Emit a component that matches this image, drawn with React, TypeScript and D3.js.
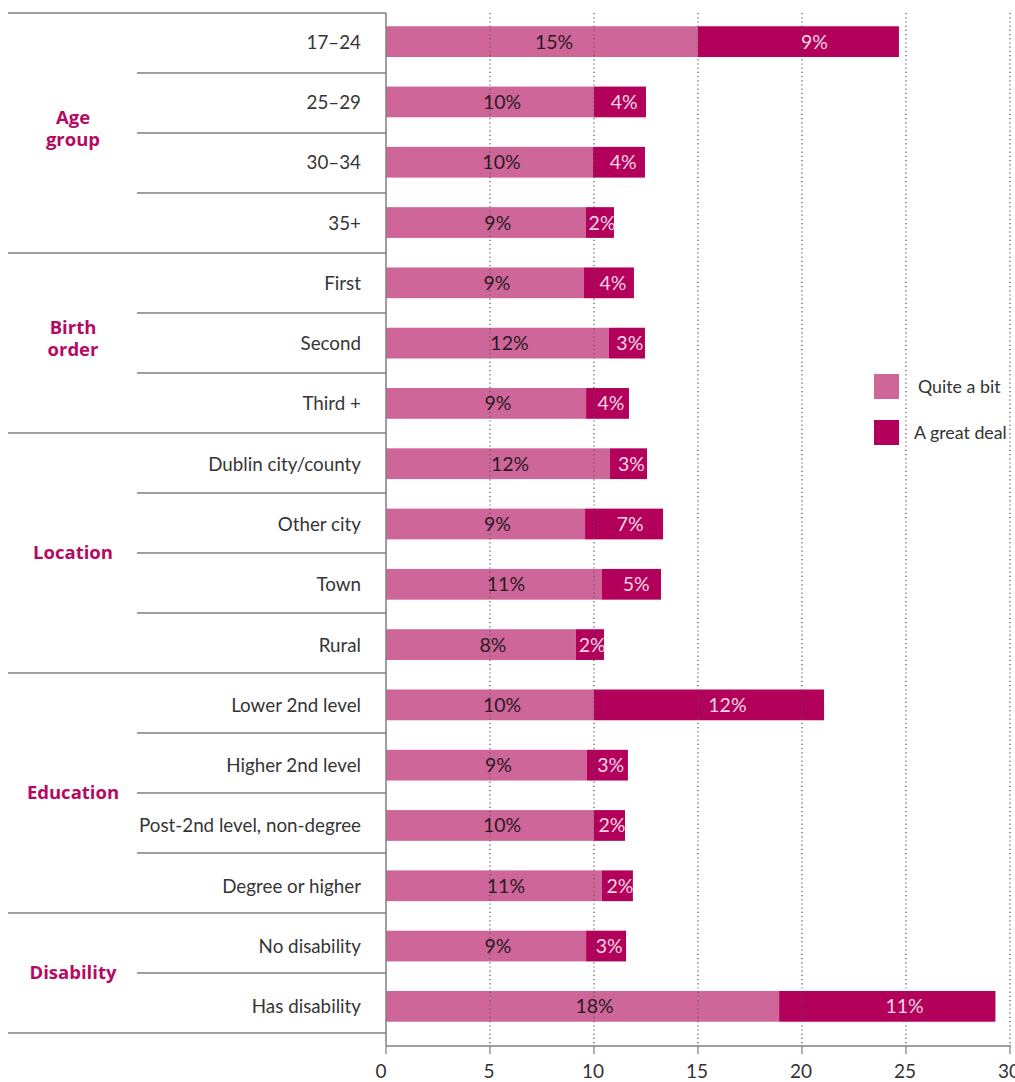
import React from "react";
import * as d3 from "d3";

const categories = [
  "17–24", "25–29", "30–34", "35+",
  "First", "Second", "Third +",
  "Dublin city/county", "Other city", "Town", "Rural",
  "Lower 2nd level", "Higher 2nd level", "Post-2nd level, non-degree", "Degree or higher",
  "No disability", "Has disability",
];
const groupNames = [["Age", "group"], ["Birth", "order"], ["Location"], ["Education"], ["Disability"]];
const groupSizes = [4, 3, 4, 4, 2];

const quiteABit = [15.0, 10.0, 9.95, 9.6, 9.52, 10.72, 9.62, 10.77, 9.57, 10.38, 9.13, 10.0, 9.66, 10.0, 10.38, 9.62, 18.9];
const greatDeal = [9.66, 2.5, 2.5, 1.36, 2.4, 1.73, 2.06, 1.78, 3.75, 2.84, 1.35, 11.06, 1.97, 1.49, 1.49, 1.92, 10.4];
const quiteLabels = ["15%", "10%", "10%", "9%", "9%", "12%", "9%", "12%", "9%", "11%", "8%", "10%", "9%", "10%", "11%", "9%", "18%"];
const greatLabels = ["9%", "4%", "4%", "2%", "4%", "3%", "4%", "3%", "7%", "5%", "2%", "12%", "3%", "2%", "2%", "3%", "11%"];
const xTicks = [0, 5, 10, 15, 20, 25, 30];
const seriesNames = ["Quite a bit", "A great deal"];

const W = 1015, H = 1082;
const LIGHT = "#cf6699";
const DARK = "#b3005a";
const GROUP = "#b50a62";
const LINE = "#7f7f7f";
const FONT = "Lato, 'Open Sans', sans-serif";

export default function App() {
  const x = d3.scaleLinear().domain([0, 30]).range([386, 1010]);
  const y = d3.scaleBand<number>().domain(d3.range(categories.length)).range([11.5, 1036.5]).paddingInner(0.49).paddingOuter(0.245);
  const rowLine = d3.scaleLinear().domain([0, categories.length]).range([13, 1033]);
  const axisY = 1046;
  const top = 13;

  const groupStarts: number[] = [];
  let acc = 0;
  groupSizes.forEach((s) => { groupStarts.push(acc); acc += s; });
  const bh = y.bandwidth();

  return (
    <svg width={W} height={H} style={{ position: "absolute", left: 0, top: 0, background: "#fff" }} fontFamily={FONT}>
      {/* bars */}
      {categories.map((c, i) => {
        const y0 = y(i)!;
        const x0 = x(0), x1 = x(quiteABit[i]), x2 = x(quiteABit[i] + greatDeal[i]);
        return (
          <g key={c}>
            <rect x={x0} y={y0} width={x1 - x0} height={bh} fill={LIGHT} />
            <rect x={x1} y={y0} width={x2 - x1} height={bh} fill={DARK} />
          </g>
        );
      })}
      {/* dotted gridlines on top */}
      {xTicks.filter((t) => t > 0).map((t) => (
        <line key={t} x1={x(t)} x2={x(t)} y1={top} y2={axisY} stroke="#555" strokeWidth={1.2} strokeDasharray="1.2,3" />
      ))}
      {/* bar labels */}
      {categories.map((c, i) => {
        const yc = y(i)! + bh / 2 + 7;
        const x0 = x(0), x1 = x(quiteABit[i]), x2 = x(quiteABit[i] + greatDeal[i]);
        return (
          <g key={"l" + c} fontSize={19.5}>
            <text x={(x0 + x1) / 2 + 12} y={yc} textAnchor="middle" fill="#2b1a23">{quiteLabels[i]}</text>
            <text x={(x1 + x2) / 2 + (x2 - x1) * 0.08} y={yc} textAnchor="middle" fill="#f6d6e6">{greatLabels[i]}</text>
          </g>
        );
      })}
      {/* frame */}
      <line x1={386} x2={386} y1={top} y2={axisY} stroke={LINE} strokeWidth={1.5} />
      <line x1={386} x2={1011} y1={axisY} y2={axisY} stroke={LINE} strokeWidth={1.5} />
      {xTicks.map((t) => (
        <g key={"t" + t}>
          <line x1={x(t)} x2={x(t)} y1={axisY} y2={axisY + 8} stroke={LINE} strokeWidth={1.2} />
          <text x={x(t) - (t === 0 ? 5 : 1)} y={1078} textAnchor="middle" fontSize={19} fill="#333">{t}</text>
        </g>
      ))}
      {/* row separators */}
      {d3.range(categories.length + 1).map((k) => {
        const isGroup = k === 0 || k === categories.length || groupStarts.includes(k);
        return (
          <line key={"r" + k} x1={isGroup ? 8 : 137} x2={386} y1={rowLine(k)} y2={rowLine(k)} stroke={LINE} strokeWidth={1.5} />
        );
      })}
      {/* category labels */}
      {categories.map((c, i) => (
        <text key={"c" + c} x={361} y={y(i)! + bh / 2 + 7} textAnchor="end" fontSize={18.8} fill="#363636">{c}</text>
      ))}
      {/* group labels */}
      {groupNames.map((g, gi) => {
        const s = groupStarts[gi];
        const cy = (rowLine(s) + rowLine(s + groupSizes[gi])) / 2 - (g.length > 1 ? 5 : 1);
        const lh = 22;
        return (
          <text key={"g" + gi} x={73} textAnchor="middle" fontSize={18.5} fontWeight="bold" fill={GROUP} fontFamily="'Open Sans', Lato, sans-serif">
            {g.map((line, li) => (
              <tspan key={li} x={73} y={cy + 6.5 + (li - (g.length - 1) / 2) * lh}>{line}</tspan>
            ))}
          </text>
        );
      })}
      {/* legend */}
      {seriesNames.map((s, i) => (
        <g key={s} transform={`translate(874, ${374 + i * 46})`}>
          <rect x={0} y={0} width={25} height={25} fill={i === 0 ? LIGHT : DARK} />
          <text x={i === 0 ? 44 : 40} y={19} fontSize={17.8} fill="#333">{s}</text>
        </g>
      ))}
    </svg>
  );
}
